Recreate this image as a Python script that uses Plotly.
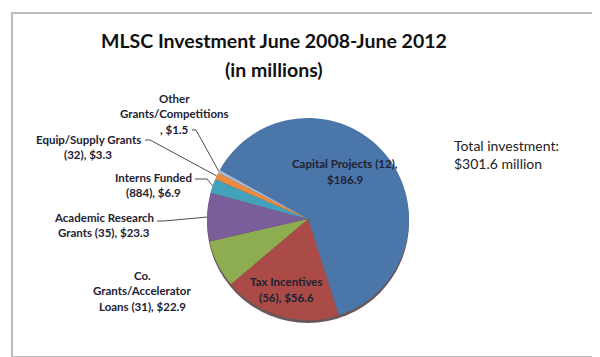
import math
import plotly.graph_objects as go

# ---- data ----
categories = ["Capital Projects", "Tax Incentives", "Co. Grants/Accelerator Loans",
              "Academic Research Grants", "Interns Funded", "Equip/Supply Grants",
              "Other Grants/Competitions"]
values = [186.9, 56.6, 22.9, 23.3, 6.9, 3.3, 1.5]
counts = ["12", "56", "31", "35", "884", "32", ""]
colors = ["#4A76AA", "#AA4B48", "#8EAD51", "#795E9A", "#44A1BC", "#EE8A3C", "#A3BADB"]
title_lines = ["MLSC Investment June 2008-June 2012", "(in millions)"]
total_lines = ["Total investment:", "$301.6 million"]

W, H = 600, 357
CX, CY, R = 300, 211, 101          # pie centre / radius in pixels
ROT = -61                          # start angle, degrees clockwise from 12 o'clock


def px(x):
    return x / W


def py(y):
    return 1 - y / H


FONT = "Lato"
LABEL_COLOR = "#1E2233"
LABEL_SIZE = 11.5

fig = go.Figure()

fig.add_trace(go.Pie(
    labels=categories,
    values=values,
    sort=False,
    direction="clockwise",
    rotation=ROT,
    marker=dict(colors=colors, line=dict(width=0)),
    textinfo="none",
    hoverinfo="label+value",
    showlegend=False,
    domain=dict(x=[px(CX - R), px(CX + R)], y=[py(CY + R), py(CY - R)]),
))

# slice mid-angles computed from the data
total = sum(values)
mid = []
acc = 0.0
for v in values:
    a0 = ROT + acc / total * 360
    acc += v
    a1 = ROT + acc / total * 360
    mid.append((a0 + a1) / 2)


def edge_point(i):
    a = math.radians(mid[i])
    return CX + R * math.sin(a), CY - R * math.cos(a)


annotations = []
shapes = []


def add_lines(lines, x, y0, step, size, bold=True, color=LABEL_COLOR, anchor="center"):
    for k, t in enumerate(lines):
        annotations.append(dict(text=("<b>" + t + "</b>") if bold else t,
                                x=px(x), y=py(y0 + step * k),
                                xref="paper", yref="paper", showarrow=False,
                                xanchor=anchor, yanchor="middle",
                                font=dict(family=FONT, size=size, color=color)))


# border
shapes.append(dict(type="rect", xref="paper", yref="paper",
                   x0=px(4), x1=px(594), y0=py(349), y1=py(5),
                   line=dict(color="#BDBDBD", width=2), layer="below"))
# pie shadow
shapes.append(dict(type="circle", xref="paper", yref="paper",
                   x0=px(CX - R), x1=px(CX + R), y0=py(CY + R + 3), y1=py(CY - R + 3),
                   fillcolor="rgba(70,45,45,0.8)", line=dict(width=0), layer="below"))

# title
add_lines(title_lines, 266, 32, 29, 19.5, color="#111111")

# total investment
add_lines(total_lines, 444, 137, 18, 14, bold=False, color="#222222", anchor="left")

# inside labels (slice index, lines, centre x, first-line y)
inside = [
    (0, ["Capital Projects ({}),".format(counts[0]), "${}".format(values[0])], 337, 155),
    (1, ["Tax Incentives", "({}), ${}".format(counts[1], values[1])], 278, 273),
]
for idx, lines, tx, ty in inside:
    add_lines(lines, tx, ty, 16, LABEL_SIZE)

# outside labels: (index, lines, centre x, first-line y, leader start, elbow x)
outside = [
    (6, ["Other", "Grants/Competitions", ", ${}".format(values[6])], 166, 90, (184, 122), 188),
    (5, ["Equip/Supply Grants", "({}), ${}".format(counts[5], values[5])], 80, 131, (137, 132), 142),
    (4, ["Interns Funded", "({}), ${}".format(counts[4], values[4])], 145, 169, (187, 171), 199),
    (3, ["Academic Research", "Grants ({}), ${}".format(counts[3], values[3])], 96, 209, (149, 213), 156),
    (2, ["Co.", "Grants/Accelerator", "Loans ({}), ${}".format(counts[2], values[2])], 134, 267, None, None),
]
for idx, lines, tx, ty, start, elbow in outside:
    add_lines(lines, tx, ty, 15.5, LABEL_SIZE)
    if start is not None:
        ex, ey = edge_point(idx)
        path = "M {:.4f},{:.4f} L {:.4f},{:.4f} L {:.4f},{:.4f}".format(
            px(start[0]), py(start[1]), px(elbow), py(start[1]), px(ex), py(ey))
        shapes.append(dict(type="path", xref="paper", yref="paper", path=path,
                           line=dict(color="#4D4D4D", width=1)))

fig.update_layout(
    width=W, height=H,
    margin=dict(l=0, r=0, t=0, b=0),
    paper_bgcolor="white", plot_bgcolor="white",
    annotations=annotations, shapes=shapes,
)

fig.write_html("out.html")
